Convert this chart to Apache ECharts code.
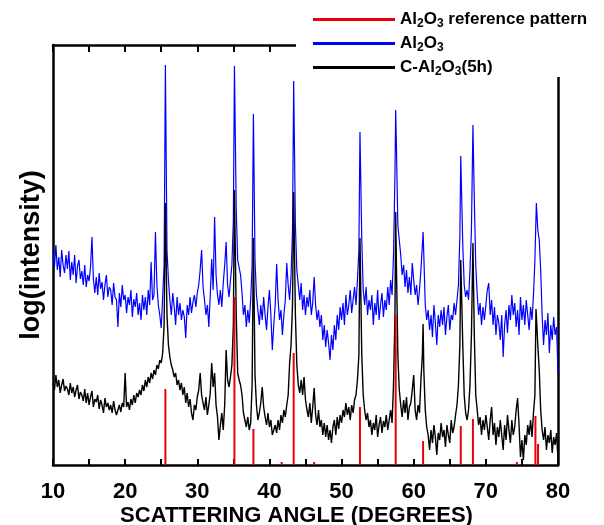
<!DOCTYPE html>
<html>
<head>
<meta charset="utf-8">
<script src="https://cdn.jsdelivr.net/npm/echarts@6/dist/echarts.min.js"></script>
<style>html,body{margin:0;padding:0;background:#fff;}#c{width:604px;height:525px;}</style>
</head>
<body>
<div id="c"></div>
<script>
// Scattering angle grid: 10.0 .. 80.0 deg, step 0.2 (arbitrary log-intensity units)
const angleStart = 10, angleStep = 0.2;

const blueValues = [
212,198,220,195,208,188,215,200,192,210,
196,214,185,203,190,210,182,199,205,186,
194,180,200,178,190,184,198,228,186,172,
188,170,192,176,183,165,180,190,168,178,
175,160,182,168,165,138,172,158,180,165,
170,152,168,160,175,148,166,158,172,150,
162,145,170,155,168,150,175,160,203,165,
170,233,180,160,150,137,168,200,390,215,
185,165,150,172,158,140,168,150,162,145,
155,148,127,160,150,168,152,163,170,158,
172,180,195,215,178,165,150,160,138,170,
206,175,248,190,170,160,175,158,182,200,
223,180,168,185,200,245,399,255,205,207,
190,172,150,160,138,155,142,165,200,351,
205,170,155,140,160,145,168,150,135,158,
175,150,115,140,160,201,165,145,155,130,
150,165,202,180,165,190,235,384,240,195,
180,165,182,155,170,150,168,158,175,150,
162,188,160,145,155,138,150,125,140,118,
135,122,105,130,115,140,125,150,135,158,
145,162,140,170,150,160,175,152,165,178,
160,185,215,333,225,175,160,178,150,165,
155,170,140,162,150,175,145,160,172,148,
165,155,178,160,185,170,210,290,320,240,
225,210,190,200,178,195,172,188,170,202,
185,170,180,160,175,195,220,210,160,145,
155,135,150,128,160,142,120,150,138,155,
140,158,130,148,160,135,150,145,162,150,
165,180,230,309,220,180,168,175,165,195,
235,340,265,200,170,150,162,140,158,145,
160,175,182,150,165,140,158,130,150,142,
125,150,108,140,155,132,160,145,170,150,
162,138,155,130,168,145,160,140,165,150,
135,158,145,170,205,262,235,225,195,150,
120,145,130,152,112,140,125,148,130,138,
92
];

const blackValues = [
82,75,90,78,85,72,80,86,74,79,
76,70,82,72,78,68,75,80,66,73,
70,64,76,62,72,60,68,74,58,66,
63,70,56,65,60,52,67,58,62,55,
60,52,64,55,50,48,60,53,62,58,
92,58,63,55,66,60,70,62,72,68,
75,70,80,74,85,78,88,82,92,86,
95,90,100,96,105,102,112,140,262,150,
120,108,100,95,88,92,80,85,75,82,
70,78,62,72,58,66,52,45,60,55,
68,75,92,70,62,55,68,50,60,72,
102,78,92,60,48,25,40,52,35,60,
115,85,78,88,100,140,275,150,92,85,
80,70,52,45,38,48,35,42,80,227,
90,60,45,52,62,78,58,48,40,52,
38,45,30,28,40,32,45,35,50,42,
55,48,60,70,102,120,160,273,150,100,
80,72,85,70,88,65,55,48,62,42,
58,77,50,40,55,38,45,30,42,28,
40,25,35,22,38,45,30,48,36,50,
42,55,48,62,50,58,45,60,52,65,
70,85,110,227,110,70,55,45,52,38,
45,30,42,35,50,28,40,48,32,44,
38,50,35,45,55,42,80,150,200,110,
75,60,48,65,52,68,45,58,62,75,
90,55,45,60,52,85,110,95,55,38,
30,15,35,22,40,28,10,32,25,42,
28,35,18,40,30,22,45,32,38,50,
60,80,120,205,120,70,52,45,55,80,
130,222,130,70,55,40,48,30,45,35,
50,38,25,45,58,30,42,20,38,28,
45,30,15,40,25,50,35,22,45,30,
38,55,67,40,8,25,5,30,20,40,
30,45,28,52,70,156,120,95,55,35,
25,38,15,30,22,35,12,28,20,32,
5
];

// Main reflection apexes [angle, value]
const bluePeaks = [[25.58,400],[35.15,399],[37.78,351],[43.36,384],[52.55,333],[57.5,355],[61.3,233],[66.52,309],[68.21,340],[77.0,262]];
const blackPeaks = [[25.58,262],[35.15,275],[37.78,227],[43.36,273],[52.55,227],[57.5,253],[61.3,141],[66.52,205],[68.21,222],[76.95,156]];

// Reference pattern sticks [angle, relative height]
const refAngles  = [25.58, 35.15, 37.78, 41.7, 43.36, 46.2, 52.55, 57.5, 61.3, 66.52, 68.21, 74.3, 76.87, 77.23];
const refHeights = [76, 168, 36, 3, 112, 3, 58, 150, 24, 39, 46, 3, 49, 21];

const xTickLabels = ['10','20','30','40','50','60','70','80'];

function buildSeries(values, peaks) {
  const pts = [];
  values.forEach((v, i) => {
    const a = Math.round((angleStart + i * angleStep) * 100) / 100;
    if (!peaks.some(p => Math.abs(p[0] - a) < 0.09)) pts.push([a, v]);
  });
  peaks.forEach(p => pts.push([p[0], p[1]]));
  pts.sort((m, n) => m[0] - n[0]);
  return pts;
}

const FONT = "'Liberation Sans', Arial, Helvetica, sans-serif";
const chart = echarts.init(document.getElementById('c'), null, {renderer: 'canvas'});

const legendRich = {
  a: {fontSize: 17, fontWeight: 'bold', fontFamily: FONT, color: '#000', lineHeight: 20},
  s: {fontSize: 12, fontWeight: 'bold', fontFamily: FONT, color: '#000', lineHeight: 17, verticalAlign: 'bottom'},
  u: {fontSize: 12, fontWeight: 'bold', fontFamily: FONT, color: '#000', lineHeight: 12, verticalAlign: 'bottom'}
};
const legendText = {
  'Al2O3 reference pattern': '{a|Al}{s|2}{a|O}{s|3}{a| reference pattern}',
  'Al2O3': '{a|Al}{s|2}{a|O}{s|3}',
  'C-Al2O3(5h)': '{a|C-Al}{u|2}{a|O}{u|3}{a|(5h)}'
};

const option = {
  backgroundColor: '#fff',
  animation: false,
  grid: {left: 53, right: 46, top: 45, bottom: 60, containLabel: false, outerBoundsMode: 'none'},
  xAxis: [{
    type: 'value', min: 10, max: 80, interval: 5, position: 'bottom',
    axisLine: {show: true, onZero: false, lineStyle: {color: '#000', width: 2.5}},
    axisTick: {show: true, inside: true, length: 6, lineStyle: {color: '#000', width: 2}},
    splitLine: {show: false},
    axisLabel: {
      fontSize: 22, fontWeight: 'bold', fontFamily: FONT, color: '#000', margin: 16,
      formatter: v => (xTickLabels.indexOf(String(v)) >= 0 ? String(v) : '')
    },
    name: 'SCATTERING ANGLE (DEGREES)', nameLocation: 'middle', nameGap: 40, nameMoveOverlap: false,
    nameTextStyle: {fontSize: 22, fontWeight: 'bold', fontFamily: FONT, color: '#000', padding: [0, 18, 0, 0]}
  }, {
    type: 'value', min: 10, max: 80, interval: 5, position: 'top',
    axisLine: {show: true, onZero: false, lineStyle: {color: '#000', width: 2.5}},
    axisTick: {show: true, inside: true, length: 7, lineStyle: {color: '#000', width: 2}},
    axisLabel: {show: false}, splitLine: {show: false}
  }],
  yAxis: [{
    type: 'value', min: 0, max: 420, position: 'left',
    axisLine: {show: true, onZero: false, lineStyle: {color: '#000', width: 2.5}},
    axisTick: {show: false}, axisLabel: {show: false}, splitLine: {show: false},
    name: 'log(intensity)', nameLocation: 'middle', nameGap: 8, nameRotate: 90,
    nameTextStyle: {fontSize: 27, fontWeight: 'bold', fontFamily: FONT, color: '#000'}
  }, {
    type: 'value', min: 0, max: 420, position: 'right',
    axisLine: {show: true, onZero: false, lineStyle: {color: '#000', width: 2.5}},
    axisTick: {show: false}, axisLabel: {show: false}, splitLine: {show: false}
  }],
  legend: {
    orient: 'vertical', left: 313, top: 11, padding: 0, itemGap: 5.5,
    itemWidth: 82, itemHeight: 3, icon: 'rect', z: 60,
    data: ['Al2O3 reference pattern', 'Al2O3', 'C-Al2O3(5h)'],
    formatter: n => legendText[n],
    textStyle: {rich: legendRich, fontFamily: FONT}
  },
  graphic: [{
    type: 'rect', z: 50, silent: true,
    shape: {x: 296, y: 0, width: 308, height: 77},
    style: {fill: '#fff'}
  }],
  series: [{
    name: 'Al2O3', type: 'line', xAxisIndex: 0, yAxisIndex: 0,
    data: buildSeries(blueValues, bluePeaks),
    symbol: 'none', showSymbol: false, z: 2,
    lineStyle: {color: '#0000ff', width: 1.2}, itemStyle: {color: '#0000ff'}
  }, {
    name: 'C-Al2O3(5h)', type: 'line', xAxisIndex: 0, yAxisIndex: 0,
    data: buildSeries(blackValues, blackPeaks),
    symbol: 'none', showSymbol: false, z: 3,
    lineStyle: {color: '#000000', width: 1.4}, itemStyle: {color: '#000000'}
  }, {
    name: 'Al2O3 reference pattern', type: 'bar', xAxisIndex: 0, yAxisIndex: 0,
    data: refAngles.map((a, i) => [a, refHeights[i]]),
    barWidth: 2, barGap: '-100%', z: 4,
    itemStyle: {color: '#e8000b'}
  }]
};
chart.setOption(option);
</script>
</body>
</html>
